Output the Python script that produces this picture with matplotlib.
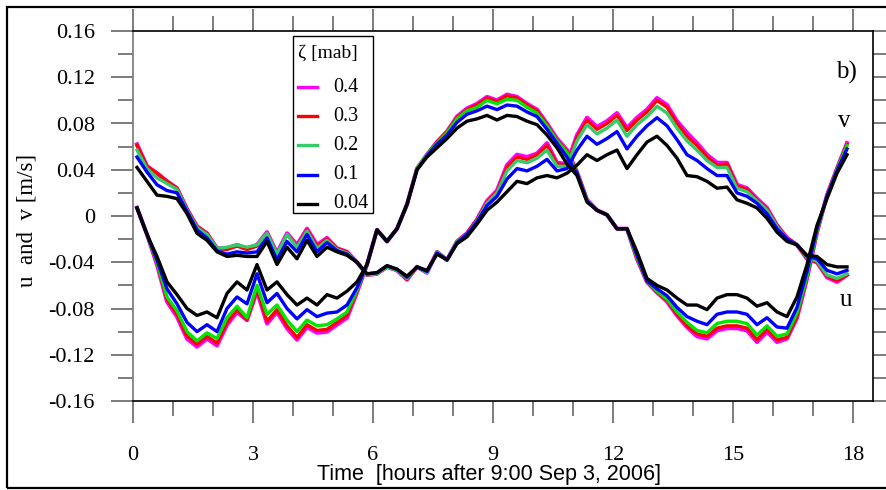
#!/usr/bin/env python3
# coding: utf-8
# Near-bed velocity components u and v at several heights above the bed.

import matplotlib

matplotlib.use("Agg")
import matplotlib.pyplot as plt
import numpy as np
from matplotlib.lines import Line2D
from matplotlib.patches import Rectangle
from matplotlib.ticker import FuncFormatter, MultipleLocator

# sample times, hours after 9:00 Sep 3, 2006 (one sample every 15 min)
hours = 0.1 + 0.25 * np.arange(72)

# heights above bed [mab], top to bottom of the legend
levels = ["0.4", "0.3", "0.2", "0.1", "0.04"]

# u component [mm/s]
u_04 = [62, 43, 37, 30, 24, 6, -9, -15, -28, -28, -25, -28, -25, -14, -32, -15, -25, -11, -25,
        -19, -28, -31, -40, -51, -50, -44, -47, -55, -44, -49, -31, -38, -22, -15, -3, 13, 22,
        44, 53, 51, 54, 63, 46, 45, 70, 85, 77, 82, 89, 76, 85, 92, 102, 96, 82, 72,
        63, 53, 46, 46, 27, 24, 15, 7, -8, -19, -25, -37, -40, -53, -57, -51]
u_03 = [61, 43, 37, 30, 24, 6, -9, -15, -28, -29, -26, -29, -26, -15, -33, -16, -26, -12, -26,
        -20, -28, -31, -40, -51, -50, -44, -47, -55, -44, -49, -31, -38, -22, -15, -3, 12, 21,
        42, 51, 49, 53, 61, 45, 44, 68, 83, 75, 80, 87, 74, 83, 90, 100, 94, 80, 69,
        61, 51, 44, 45, 26, 23, 14, 6, -8, -19, -25, -37, -40, -52, -56, -51]
u_02 = [57, 41, 33, 28, 23, 5, -10, -16, -28, -27, -25, -27, -25, -15, -33, -16, -27, -13, -28,
        -21, -29, -32, -40, -51, -50, -44, -47, -54, -44, -49, -31, -38, -22, -16, -4, 11, 20,
        39, 48, 46, 50, 57, 43, 43, 65, 79, 71, 76, 83, 69, 79, 86, 95, 89, 76, 65,
        57, 48, 42, 42, 24, 21, 13, 5, -9, -20, -25, -36, -39, -51, -54, -50]
u_01 = [51, 38, 27, 22, 20, 4, -12, -19, -30, -33, -31, -32, -31, -19, -38, -22, -31, -16, -31,
        -23, -30, -33, -40, -50, -49, -43, -46, -53, -44, -48, -32, -38, -23, -16, -5, 9, 17,
        32, 41, 39, 43, 49, 39, 41, 57, 69, 62, 67, 73, 58, 69, 78, 85, 78, 66, 53,
        48, 41, 35, 35, 20, 17, 11, 2, -11, -20, -25, -35, -37, -47, -50, -47]
u_004 = [42, 30, 18, 17, 15, 2, -15, -21, -31, -35, -34, -35, -35, -22, -42, -27, -37, -21, -35,
         -27, -31, -34, -40, -50, -49, -43, -46, -52, -44, -47, -33, -38, -24, -18, -7, 5, 12,
         21, 30, 28, 33, 35, 33, 37, 44, 53, 48, 53, 57, 41, 53, 64, 69, 61, 50, 35,
         34, 30, 24, 25, 14, 11, 7, -2, -14, -22, -25, -34, -35, -42, -44, -44]

# v component [mm/s]
v_04 = [7, -16, -42, -74, -87, -106, -113, -106, -112, -94, -83, -90, -65, -93, -83, -97, -107, -96, -101,
        -100, -94, -88, -66, -42, -12, -22, -11, 10, 41, 53, 64, 73, 86, 93, 97, 103, 100,
        105, 103, 97, 92, 80, 67, 57, 38, 14, 5, 1, -11, -11, -37, -57, -66, -74, -86, -96,
        -104, -106, -99, -97, -97, -99, -109, -100, -109, -106, -88, -54, -14, 18, 41, 63]
v_03 = [7, -16, -41, -72, -85, -104, -111, -104, -110, -92, -81, -90, -63, -91, -81, -95, -105, -94, -99,
        -98, -92, -86, -65, -42, -12, -22, -11, 10, 41, 53, 64, 73, 85, 92, 96, 102, 99,
        104, 102, 96, 91, 79, 66, 56, 38, 14, 5, 1, -11, -11, -37, -57, -66, -73, -85, -95,
        -102, -104, -97, -95, -95, -97, -107, -98, -107, -105, -87, -53, -14, 18, 41, 62]
v_02 = [7, -16, -40, -70, -82, -100, -108, -101, -106, -88, -78, -88, -60, -85, -77, -90, -100, -90, -95,
        -94, -89, -83, -64, -42, -12, -22, -11, 10, 41, 53, 63, 72, 84, 91, 94, 100, 97,
        101, 100, 94, 89, 78, 65, 55, 37, 14, 5, 1, -11, -11, -36, -56, -65, -72, -83, -92,
        -99, -101, -93, -91, -91, -93, -103, -95, -104, -102, -84, -52, -13, 17, 40, 61]
v_01 = [7, -16, -38, -63, -76, -92, -100, -94, -100, -80, -70, -76, -50, -75, -67, -80, -89, -81, -87,
        -84, -83, -77, -62, -42, -12, -22, -11, 10, 40, 52, 62, 70, 81, 88, 91, 95, 92,
        96, 95, 90, 86, 75, 63, 51, 37, 13, 5, 1, -11, -11, -34, -56, -63, -69, -79, -87,
        -91, -94, -85, -83, -83, -85, -94, -88, -96, -97, -79, -48, -11, 17, 39, 58]
v_004 = [7, -16, -35, -57, -68, -80, -86, -83, -88, -67, -57, -64, -42, -64, -57, -68, -77, -71, -77,
         -68, -71, -65, -57, -42, -12, -22, -11, 10, 40, 51, 59, 67, 76, 82, 84, 87, 83,
         87, 86, 82, 79, 70, 59, 45, 35, 12, 5, 1, -11, -11, -31, -54, -60, -64, -71, -77,
         -77, -81, -71, -68, -68, -71, -78, -75, -83, -87, -70, -42, -8, 15, 37, 53]

u_series = [u_04, u_03, u_02, u_01, u_004]
v_series = [v_04, v_03, v_02, v_01, v_004]

colors = ["#ff00ff", "#ff0000", "#33cc66", "#0000ff", "#000000"]
v_green = "#00e600"
widths = [3.0, 2.4, 2.4, 2.4, 2.4]

SERIF = "Liberation Serif"
W, H = 887, 490


def fx(px):
    "pixel column -> figure fraction"
    return px / W


def fy(py):
    "pixel row (from top) -> figure fraction"
    return 1 - py / H


def fmt_y(val, pos):
    if abs(val) < 1e-9:
        return "0"
    return f"{val:.2f}"


def draw_key(fig):
    "boxed key for the heights, drawn in figure pixels"
    fig.add_artist(Rectangle((fx(293), fy(213)), fx(80), 177 / H, transform=fig.transFigure,
                             fc="white", ec="black", lw=1.0, zorder=20))
    fig.text(fx(298), fy(53), "\u03b6 [mab]", fontsize=14, ha="left", va="center", zorder=21)
    for i, lev in enumerate(levels):
        y = 87 + 29.2 * i
        fig.add_artist(Line2D([fx(298), fx(317)], [fy(y), fy(y)], transform=fig.transFigure,
                              color=colors[i], lw=2.4, zorder=21))
        fig.text(fx(333), fy(y), lev, fontsize=14.5, ha="left", va="center", zorder=21)


def plot_velocity():
    plt.rcParams["axes.unicode_minus"] = False
    plt.rcParams["font.family"] = [SERIF, "DejaVu Serif"]

    fig = plt.figure(figsize=(W / 100, H / 100), dpi=100)
    ax = fig.add_axes([fx(133), fy(401), 740 / W, 370 / H])

    for i in range(len(levels)):
        uc = colors[i]
        vc = v_green if i == 2 else colors[i]
        ax.plot(hours, np.array(u_series[i]) / 1000.0, color=uc, lw=widths[i],
                solid_joinstyle="round", zorder=2 + i)
        ax.plot(hours, np.array(v_series[i]) / 1000.0, color=vc, lw=widths[i],
                solid_joinstyle="round", zorder=2 + i)

    ax.set_xlim(0, 18.5)
    ax.set_ylim(-0.16, 0.16)
    ax.xaxis.set_major_locator(MultipleLocator(3))
    ax.xaxis.set_minor_locator(MultipleLocator(1))
    ax.yaxis.set_major_locator(MultipleLocator(0.04))
    ax.yaxis.set_minor_locator(MultipleLocator(0.02))
    ax.yaxis.set_major_formatter(FuncFormatter(fmt_y))

    ax.tick_params(which="both", direction="out", top=True, right=True,
                   labeltop=False, labelright=False, color="#666666", width=1.2)
    ax.tick_params(which="major", length=15.5)
    ax.tick_params(which="minor", length=10.5)
    ax.tick_params(axis="y", which="major", labelsize=16, pad=12)
    ax.tick_params(axis="x", which="major", labelsize=16, pad=17)
    for side in ("top", "bottom", "right"):
        ax.spines[side].set_color("black")
        ax.spines[side].set_linewidth(1.2)
    ax.spines["left"].set_color("#777777")
    ax.spines["left"].set_linewidth(1.2)

    draw_key(fig)

    fig.text(fx(836), fy(72), "b)", fontsize=18, ha="left", va="center")
    fig.text(fx(844), fy(121), "v", fontsize=18, ha="center", va="center")
    fig.text(fx(846), fy(300), "u", fontsize=18, ha="center", va="center")

    fig.text(fx(27), fy(220), "u  and  v [m/s]", rotation=90, fontsize=16.5,
             ha="center", va="center")
    fig.text(fx(489), fy(474), "Time  [hours after 9:00 Sep 3, 2006]", fontsize=15.5,
             ha="center", va="center", family=["Liberation Sans", "DejaVu Sans"])

    # outer frame around the whole panel
    fig.add_artist(Rectangle((fx(7), fy(488)), 2.0, 481 / H, transform=fig.transFigure,
                             fill=False, ec="black", lw=1.6))

    fig.savefig("out.png", dpi=100)


def main():
    plot_velocity()


if __name__ == "__main__":
    main()
